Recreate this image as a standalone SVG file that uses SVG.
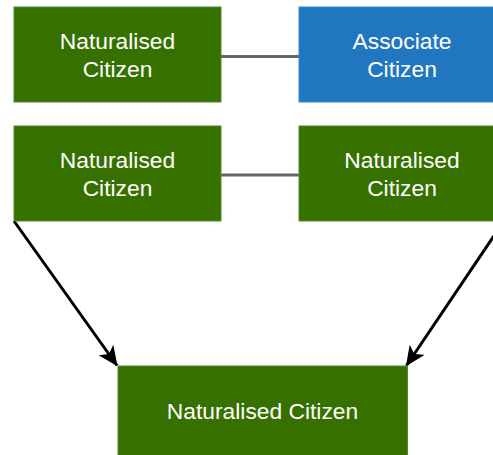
<svg xmlns="http://www.w3.org/2000/svg" width="493" height="455" viewBox="0 0 493 455">
<defs>
<style>
.g{fill:#367100;stroke:#4f8a2a;stroke-width:1}
.b{fill:#2177bf;stroke:#3a8ad0;stroke-width:1}
.t{font-family:"Liberation Sans",Arial,sans-serif;font-size:22.8px;fill:#ffffff;text-anchor:middle}
.line{stroke:#666666;stroke-width:3;fill:none}
.arr{stroke:#000000;stroke-width:3;fill:none}
</style>
<marker id="ah2" viewBox="0 0 20 18" refX="19" refY="9" markerWidth="20" markerHeight="18" orient="auto" markerUnits="userSpaceOnUse">
<path d="M0,0 L20,9 L0,18 L5,9 Z" fill="#000000"/>
</marker>
</defs>
<g id="connectors">
<line class="line" x1="221" y1="56.5" x2="299" y2="56.5"/>
<line class="line" x1="221" y1="175" x2="299" y2="175"/>
<line class="arr" x1="14" y1="221" x2="117" y2="365.5" marker-end="url(#ah2)"/>
<line class="arr" x1="504" y1="221" x2="406.5" y2="365.5" marker-end="url(#ah2)"/>
</g>
<g id="node1">
<rect class="g" x="14" y="7" width="207" height="95"/>
<text class="t" x="117.5" y="49.3">Naturalised</text>
<text class="t" x="117.5" y="76.7">Citizen</text>
</g>
<g id="node2">
<rect class="b" x="299" y="7" width="205" height="95"/>
<text class="t" x="402" y="49.3">Associate</text>
<text class="t" x="402" y="76.7">Citizen</text>
</g>
<g id="node3">
<rect class="g" x="14" y="126" width="207" height="95"/>
<text class="t" x="117.5" y="168.3">Naturalised</text>
<text class="t" x="117.5" y="195.7">Citizen</text>
</g>
<g id="node4">
<rect class="g" x="299" y="126" width="205" height="95"/>
<text class="t" x="402" y="168.3">Naturalised</text>
<text class="t" x="402" y="195.7">Citizen</text>
</g>
<g id="node5">
<rect class="g" x="118" y="366" width="289.5" height="95"/>
<text class="t" x="262.5" y="419.3">Naturalised Citizen</text>
</g>
</svg>
